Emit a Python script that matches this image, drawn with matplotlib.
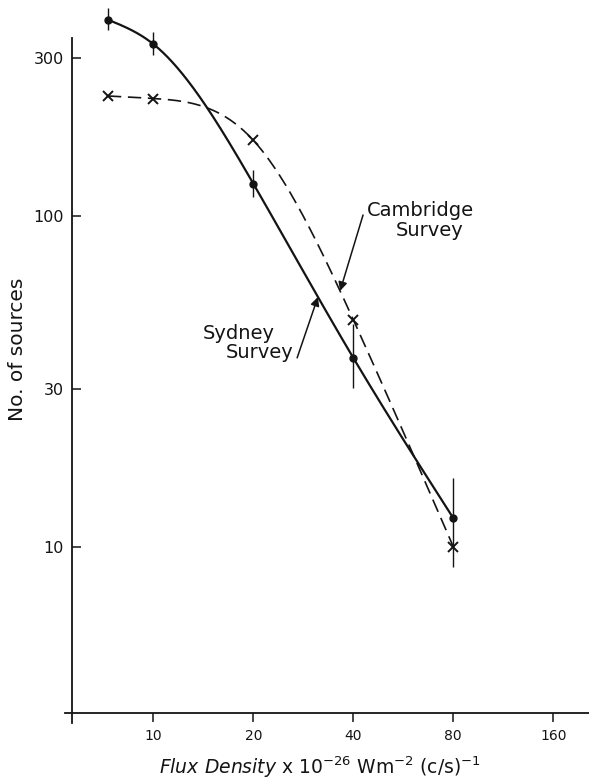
import numpy as np
import matplotlib
matplotlib.use("Agg")
import matplotlib.pyplot as plt
from matplotlib.ticker import FixedLocator, FixedFormatter, NullLocator

# Source counts against flux density (flux in units of 1e-26 W m^-2 (c/s)^-1)
flux = [7.3, 10, 20, 40, 80]
sydney_counts = [391, 330, 125, 37.2, 12.2]
sydney_upper = [424, 359, 137, 47.0, 16.1]
sydney_lower = [364, 306, 114, 30.2, 8.7]
cambridge_counts = [230, 226, 169, 48.5, 10.0]

x_ticks = [10, 20, 40, 80, 160]
x_tick_labels = ["10", "20", "40", "80", "160"]
y_ticks = [10, 30, 100, 300]
y_tick_labels = ["10", "30", "100", "300"]

INK = "#141414"
plt.rcParams["font.family"] = ["DejaVu Sans"]
plt.rcParams["mathtext.fontset"] = "dejavusans"


def natural_spline(x, y, xs):
    """Natural cubic spline through (x, y), evaluated at xs."""
    x = np.asarray(x, float)
    y = np.asarray(y, float)
    n = len(x)
    h = np.diff(x)
    A = np.zeros((n, n))
    r = np.zeros(n)
    A[0, 0] = A[-1, -1] = 1.0
    for i in range(1, n - 1):
        A[i, i - 1] = h[i - 1]
        A[i, i] = 2 * (h[i - 1] + h[i])
        A[i, i + 1] = h[i]
        r[i] = 3 * ((y[i + 1] - y[i]) / h[i] - (y[i] - y[i - 1]) / h[i - 1])
    c = np.linalg.solve(A, r)
    b = (y[1:] - y[:-1]) / h - h * (2 * c[:-1] + c[1:]) / 3
    d = (c[1:] - c[:-1]) / (3 * h)
    idx = np.clip(np.searchsorted(x, xs) - 1, 0, n - 2)
    t = xs - x[idx]
    return y[idx] + b[idx] * t + c[idx] * t ** 2 + d[idx] * t ** 3


def smooth_curve(xv, yv, num=400):
    lx = np.log10(xv)
    ly = np.log10(yv)
    grid = np.linspace(lx[0], lx[-1], num)
    return 10 ** grid, 10 ** natural_spline(lx, ly, grid)


def curve_at(xv, yv, x0):
    return 10 ** natural_spline(np.log10(xv), np.log10(yv), np.array([np.log10(x0)]))[0]


fig = plt.figure(figsize=(5.89, 7.80), dpi=100)
fig.patch.set_facecolor("white")
ax = fig.add_axes([72 / 589, 1 - 713 / 780, 1 - 72 / 589, (713 - 37.7) / 780])
ax.set_facecolor("white")
ax.set_xscale("log")
ax.set_yscale("log")
ax.set_xlim(5.69, 205)
ax.set_ylim(3.144, 345)

# axes frame: only left and bottom lines, crossing at the corner
for side in ("top", "right", "left", "bottom"):
    ax.spines[side].set_visible(False)
ax.plot([0, 0], [-0.015, 1], transform=ax.transAxes, color=INK, lw=1.3, clip_on=False)
ax.plot([-0.014, 1], [0, 0], transform=ax.transAxes, color=INK, lw=1.3, clip_on=False)

ax.xaxis.set_major_locator(FixedLocator(x_ticks))
ax.xaxis.set_major_formatter(FixedFormatter(x_tick_labels))
ax.yaxis.set_major_locator(FixedLocator(y_ticks))
ax.yaxis.set_major_formatter(FixedFormatter(y_tick_labels))
ax.xaxis.set_minor_locator(NullLocator())
ax.yaxis.set_minor_locator(NullLocator())
ax.tick_params(axis="x", direction="out", length=6.5, width=1.1, color=INK,
               labelsize=10, pad=5, labelcolor=INK, top=False)
ax.tick_params(axis="y", direction="in", length=6.5, width=1.1, color=INK,
               labelsize=11.5, pad=6, labelcolor=INK, right=False)

# Sydney survey: solid curve, dots with error bars
sx, sy = smooth_curve(flux, sydney_counts)
ax.plot(sx, sy, "-", color=INK, lw=1.6, clip_on=False, zorder=3)
ax.vlines(flux, sydney_lower, sydney_upper, color=INK, lw=1.0, clip_on=False, zorder=3)
ax.plot(flux, sydney_counts, "o", color=INK, ms=5, clip_on=False, zorder=4)

# Cambridge survey: dashed curve, crosses
cx, cy = smooth_curve(flux, cambridge_counts)
ax.plot(cx, cy, color=INK, lw=1.2, ls=(0, (8, 4)), clip_on=False, zorder=3)
ax.plot(flux, cambridge_counts, "x", color=INK, ms=6.5, mew=1.4, clip_on=False, zorder=4)

# curve labels with arrows
txt = dict(color=INK, fontsize=14, ha="center", va="center")
ax.text(63.9, 104, "Cambridge", **txt)
ax.text(68.1, 90.3, "Survey", **txt)
ax.text(18.1, 44.2, "Sydney", **txt)
ax.text(20.9, 38.5, "Survey", **txt)

arrow = dict(arrowstyle="-|>", color=INK, lw=1.1, mutation_scale=13, shrinkA=0, shrinkB=0)
ax.annotate("", xy=(36.5, curve_at(flux, cambridge_counts, 36.5)), xytext=(42.8, 100.5),
            arrowprops=arrow)
ax.annotate("", xy=(31.3, curve_at(flux, sydney_counts, 31.3)), xytext=(27.1, 37.2),
            arrowprops=arrow)

# axis titles
fig.text(18 / 589, 1 - 349 / 780, "No. of sources", rotation=90, ha="center",
         va="center", fontsize=14.5, color=INK)
fig.text(320 / 589, 1 - 767 / 780,
         r"$\mathit{Flux\ Density}$ x 10$^{-26}$ Wm$^{-2}$ (c/s)$^{-1}$",
         ha="center", va="center", fontsize=13.5, color=INK)

fig.savefig("out.png", dpi=100, facecolor="white")
